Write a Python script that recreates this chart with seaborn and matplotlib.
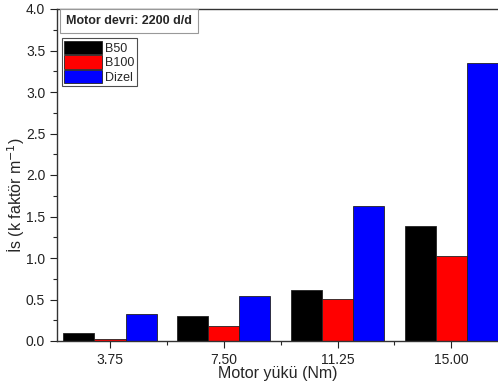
import matplotlib
matplotlib.use("Agg")
import matplotlib.pyplot as plt
import seaborn as sns
import pandas as pd
from matplotlib.ticker import MultipleLocator, FixedLocator
from matplotlib.patches import Patch

loads = ["3.75", "7.50", "11.25", "15.00"]
b50 = [0.10, 0.30, 0.61, 1.38]
b100 = [0.03, 0.18, 0.51, 1.02]
dizel = [0.32, 0.54, 1.63, 3.35]
series = ["B50", "B100", "Dizel"]
colors = ["#000000", "#ff0000", "#0000ff"]

rows = []
for name, vals in zip(series, [b50, b100, dizel]):
    for l, v in zip(loads, vals):
        rows.append({"load": l, "fuel": name, "value": v})
df = pd.DataFrame(rows)

sns.set_style("ticks")
plt.rcParams['font.family'] = ['Liberation Sans', 'DejaVu Sans']

fig = plt.figure(figsize=(4.98, 3.83), dpi=100)
ax = fig.add_axes([57/498, 42/383, 1 - 57/498, 332/383])
sns.barplot(data=df, x="load", y="value", hue="fuel", order=loads, hue_order=series,
            palette=colors, width=0.82, edgecolor="#222222", linewidth=0.6,
            ax=ax, legend=False, saturation=1)

ax.set_xlim(-0.466, 3.41)
ax.set_ylim(0, 4.0)
ax.yaxis.set_major_locator(MultipleLocator(0.5))
ax.yaxis.set_minor_locator(MultipleLocator(0.25))
ax.yaxis.set_major_formatter(matplotlib.ticker.FormatStrFormatter("%.1f"))
ax.xaxis.set_minor_locator(FixedLocator([0.5, 1.5, 2.5]))
ax.tick_params(axis="both", which="major", direction="out", length=5, width=0.8,
               labelsize=10, colors="#222222")
ax.tick_params(axis="both", which="minor", direction="out", length=3, width=0.8)
ax.tick_params(axis="x", pad=4)
ax.spines["right"].set_visible(False)
for s in ["left", "bottom", "top"]:
    ax.spines[s].set_color("#333333")
    ax.spines[s].set_linewidth(1.0)

ax.set_xlabel("Motor yükü (Nm)", fontsize=11.5, labelpad=-1)
ax.set_ylabel("İs (k faktör m$^{-1}$)", fontsize=11.5)
ax.yaxis.set_label_coords(-0.068, 0.44)

ax.text(0.02, 0.982, "Motor devri: 2200 d/d", transform=ax.transAxes,
        fontsize=9, fontweight="bold", va="top", ha="left",
        bbox=dict(boxstyle="square,pad=0.5", facecolor="white", edgecolor="#999999", linewidth=0.8))

handles = [Patch(facecolor=c, edgecolor="#222222", linewidth=0.6, label=s)
           for s, c in zip(series, colors)]
leg = ax.legend(handles=handles, loc="upper left", bbox_to_anchor=(0.005, 0.92),
                fontsize=9, frameon=True, fancybox=False, edgecolor="#222222",
                handlelength=3.0, handleheight=1.3, handletextpad=0.3,
                labelspacing=0.05, borderpad=0.2, borderaxespad=0.2)
leg.get_frame().set_linewidth(0.8)

fig.savefig("out.png", dpi=100)
